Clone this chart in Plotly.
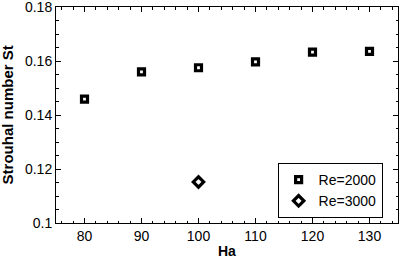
import plotly.graph_objects as go

ha_2000 = [80, 90, 100, 110, 120, 130]
st_2000 = [0.1459, 0.1560, 0.1575, 0.1597, 0.1633, 0.1636]
ha_3000 = [100]
st_3000 = [0.1152]
x_ticks = [80, 90, 100, 110, 120, 130]
y_ticks = [0.1, 0.12, 0.14, 0.16, 0.18]
y_ticklabels = ["0.1", "0.12", "0.14", "0.16", "0.18"]

FONT = "Liberation Sans, Arial, Helvetica"

fig = go.Figure()
fig.add_trace(go.Scatter(x=ha_2000, y=st_2000, mode="markers", name="Re=2000",
                         marker=dict(symbol="square-open", size=6, color="black",
                                     line=dict(width=3.2, color="black"))))
fig.add_trace(go.Scatter(x=ha_3000, y=st_3000, mode="markers", name="Re=3000",
                         marker=dict(symbol="diamond-open", size=8, color="black",
                                     line=dict(width=3.2, color="black"))))

axis_common = dict(showline=True, linecolor="black", linewidth=1, mirror="ticks",
                   ticks="inside", ticklen=5, tickcolor="black", showgrid=False,
                   zeroline=False, automargin=False, ticklabeloverflow="allow",
                   tickfont=dict(family=FONT, size=14, color="black"))

fig.update_xaxes(range=[75, 135], tickvals=x_ticks,
                 minor=dict(ticks="inside", ticklen=2.5, dtick=2, tick0=0, tickcolor="black"),
                 **axis_common)
fig.update_yaxes(range=[0.1, 0.18], tickvals=y_ticks, ticktext=y_ticklabels,
                 minor=dict(ticks="inside", ticklen=2.5, dtick=0.005, tick0=0, tickcolor="black"),
                 **axis_common)

fig.add_annotation(text="<b>Ha</b>", xref="paper", yref="paper", x=0.5, y=-0.13,
                   showarrow=False, xanchor="center", yanchor="middle",
                   font=dict(family=FONT, size=14, color="black"))
fig.add_annotation(text="<b>Strouhal number St</b>", xref="paper", yref="paper",
                   x=-0.142, y=0.5, textangle=-90, showarrow=False,
                   xanchor="center", yanchor="middle",
                   font=dict(family=FONT, size=15, color="black"))

fig.update_layout(
    width=399, height=259,
    margin=dict(l=56, r=1, t=7, b=36, autoexpand=False),
    paper_bgcolor="white", plot_bgcolor="white",
    showlegend=True,
    legend=dict(x=0.648, y=0.023, xanchor="left", yanchor="bottom",
                bgcolor="white", bordercolor="black", borderwidth=1,
                font=dict(family=FONT, size=14, color="black"),
                tracegroupgap=0, itemwidth=30),
)

fig.write_html("out.html", config={"displayModeBar": False},
               post_script="document.body.style.margin='0';document.body.style.overflow='hidden';")
